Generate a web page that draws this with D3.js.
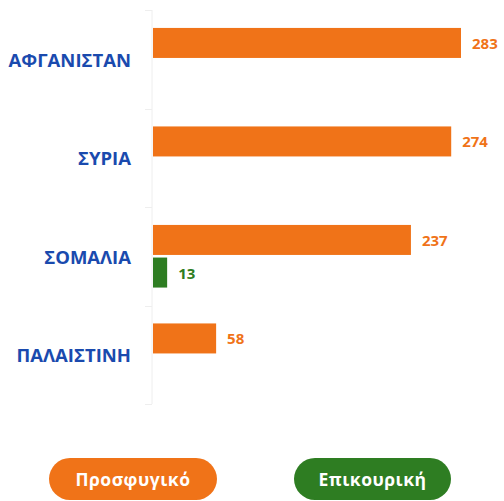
<!DOCTYPE html>
<html>
<head>
<meta charset="utf-8">
<script src="https://cdn.jsdelivr.net/npm/d3@7"></script>
<style>
  html, body { margin: 0; padding: 0; background: #fff; }
  svg { display: block; font-family: "Open Sans", "Noto Sans", sans-serif; }
</style>
</head>
<body>
<svg id="chart" width="504" height="501"></svg>
<script>
// Countries and the two series drawn per country
const countries = ["ΑΦΓΑΝΙΣΤΑΝ", "ΣΥΡΙΑ", "ΣΟΜΑΛΙΑ", "ΠΑΛΑΙΣΤΙΝΗ"];
const seriesNames = ["Προσφυγικό", "Επικουρική"];
const prosfygiko = [283, 274, 237, 58];
const epikouriki = [0, 0, 13, 0];

const colors = { "Προσφυγικό": "#F07318", "Επικουρική": "#2E7D22" };
const labelBlue = "#1A4AAE";

const svg = d3.select("#chart");
const margin = { top: 10, left: 152, right: 20 };
const plotH = 394;

const y = d3.scaleBand().domain(countries).range([margin.top, margin.top + plotH]).paddingInner(0).paddingOuter(0);
const ySub = d3.scaleBand().domain(seriesNames).range([0, y.bandwidth()]).paddingInner(0.08).paddingOuter(0.55);
const x = d3.scaleLinear().domain([0, 283]).range([margin.left + 1, 461]);

const rows = countries.map((c, i) => ({
  country: c,
  values: [
    { series: seriesNames[0], value: prosfygiko[i] },
    { series: seriesNames[1], value: epikouriki[i] }
  ]
}));

// Category axis: faint line with boundary ticks
const axisG = svg.append("g");
axisG.append("line")
  .attr("x1", margin.left).attr("x2", margin.left)
  .attr("y1", margin.top).attr("y2", margin.top + plotH)
  .attr("stroke", "#EEEEEE").attr("stroke-width", 1);
const bounds = countries.map(c => y(c)).concat([margin.top + plotH]);
axisG.selectAll("line.tick").data(bounds).join("line")
  .attr("class", "tick")
  .attr("x1", margin.left - 7).attr("x2", margin.left)
  .attr("y1", d => Math.round(d) + 0.5).attr("y2", d => Math.round(d) + 0.5)
  .attr("stroke", "#EEEEEE");

// Country labels
svg.selectAll("text.cat").data(countries).join("text")
  .attr("class", "cat")
  .attr("x", 131)
  .attr("y", d => y(d) + y.bandwidth() / 2)
  .attr("text-anchor", "end")
  .attr("dominant-baseline", "central")
  .attr("font-size", 18.5)
  .attr("font-weight", 700)
  .attr("fill", labelBlue)
  .text(d => d);

// Bars and value labels
const groups = svg.selectAll("g.row").data(rows).join("g")
  .attr("class", "row")
  .attr("transform", d => `translate(0,${y(d.country)})`);

const shown = d => d.values.filter(v => v.value > 0);

groups.selectAll("rect").data(shown).join("rect")
  .attr("x", x(0))
  .attr("y", d => ySub(d.series))
  .attr("width", d => x(d.value) - x(0))
  .attr("height", ySub.bandwidth())
  .attr("fill", d => colors[d.series]);

groups.selectAll("text.val").data(shown).join("text")
  .attr("class", "val")
  .attr("x", d => x(d.value) + 11)
  .attr("y", d => ySub(d.series) + ySub.bandwidth() / 2)
  .attr("dominant-baseline", "central")
  .attr("font-size", 15)
  .attr("font-weight", 700)
  .attr("fill", d => colors[d.series])
  .text(d => d.value);

// Legend pills
const legend = [
  { name: seriesNames[0], x0: 49, x1: 217 },
  { name: seriesNames[1], x0: 294, x1: 451 }
];
const lg = svg.selectAll("g.legend").data(legend).join("g").attr("class", "legend");
lg.append("rect")
  .attr("x", d => d.x0).attr("y", 458)
  .attr("width", d => d.x1 - d.x0).attr("height", 42)
  .attr("rx", 21).attr("ry", 21)
  .attr("fill", d => colors[d.name]);
lg.append("text")
  .attr("x", d => (d.x0 + d.x1) / 2).attr("y", 479)
  .attr("text-anchor", "middle").attr("dominant-baseline", "central")
  .attr("font-size", 17.5).attr("font-weight", 700)
  .attr("letter-spacing", 0.5)
  .attr("fill", "#fff")
  .text(d => d.name);
</script>
</body>
</html>
